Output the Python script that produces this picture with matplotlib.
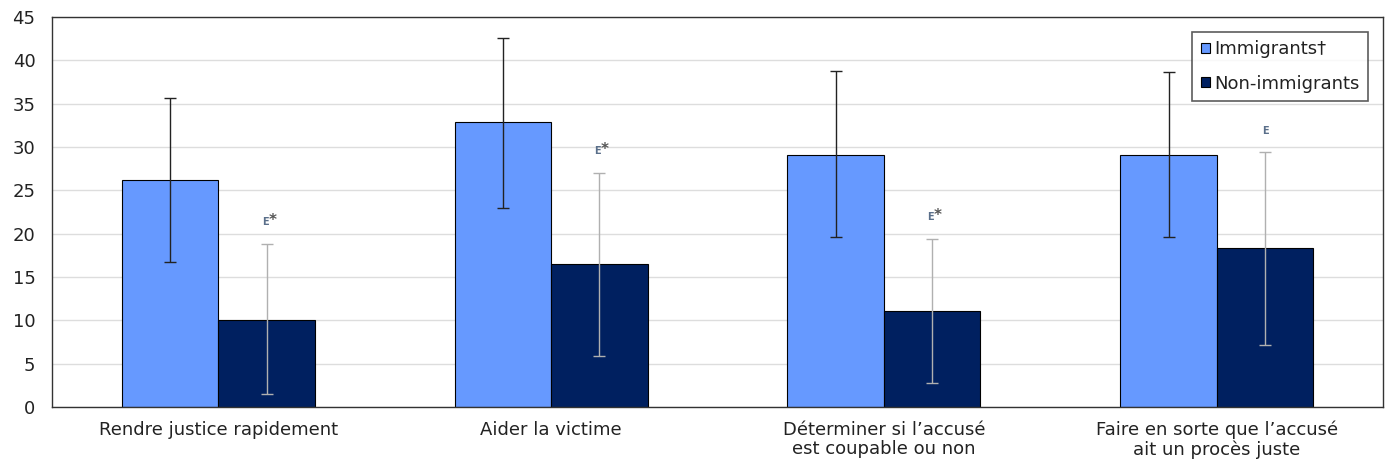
import numpy as np
import matplotlib.pyplot as plt

categories = ["Rendre justice rapidement", "Aider la victime",
              "Déterminer si l’accusé\nest coupable ou non",
              "Faire en sorte que l’accusé\nait un procès juste"]
immigrants = [26.2, 32.9, 29.1, 29.1]
imm_low = [16.7, 23.0, 19.6, 19.6]
imm_high = [35.7, 42.6, 38.8, 38.7]
non_immigrants = [10.0, 16.5, 11.1, 18.3]
non_low = [1.5, 5.9, 2.8, 7.2]
non_high = [18.8, 27.0, 19.4, 29.4]
flags = ["E*", "E*", "E*", "E"]

imm_color = "#6699ff"
non_color = "#002060"

fig = plt.figure(figsize=(13.88, 4.66), dpi=100)
ax = fig.add_axes([0.0375, 0.1266, 0.959, 0.837])

x = np.arange(len(categories))
w = 0.29
imm = np.array(immigrants)
non = np.array(non_immigrants)

ax.bar(x - w / 2, imm, w, color=imm_color, edgecolor="black", linewidth=0.8,
       label="Immigrants†", zorder=2)
ax.bar(x + w / 2, non, w, color=non_color, edgecolor="black", linewidth=0.8,
       label="Non-immigrants", zorder=2)

ax.errorbar(x - w / 2, imm, yerr=[imm - np.array(imm_low), np.array(imm_high) - imm],
            fmt="none", ecolor="#222222", elinewidth=1, capsize=4, zorder=3)
ax.errorbar(x + w / 2, non, yerr=[non - np.array(non_low), np.array(non_high) - non],
            fmt="none", ecolor="#b0b0b0", elinewidth=1, capsize=4, zorder=3)

for xi, hi, f in zip(x, non_high, flags):
    txt = ax.text(xi + w / 2, hi + 2.5, "E", ha="center", va="center",
                  fontsize=7, color="#5a6f8a", fontweight="bold")
    if "*" in f:
        txt.set_ha("right")
        txt.set_x(xi + w / 2 + 0.005)
        ax.text(xi + w / 2 + 0.005, hi + 2.7, "*", ha="left", va="center",
                fontsize=11, color="#555555", fontweight="bold")

ax.set_xlim(-0.5, 3.5)
ax.set_ylim(0, 45)
ax.set_yticks(range(0, 46, 5))
ax.set_xticks(x)
ax.set_xticklabels(categories, fontsize=13, color="#222222", linespacing=1.1)
ax.tick_params(axis="y", labelsize=13, labelcolor="#222222", length=0, pad=12)
ax.tick_params(axis="x", length=0, pad=10)
ax.yaxis.grid(True, color="#dddddd", linewidth=1, zorder=0)
ax.set_axisbelow(True)
for s in ax.spines.values():
    s.set_color("#333333")
    s.set_linewidth(1)

leg = ax.legend(loc="upper right", bbox_to_anchor=(0.991, 0.97), fontsize=13,
                frameon=True, fancybox=False, edgecolor="#333333",
                handlelength=0.5, handleheight=0.5, handletextpad=0.25,
                labelspacing=0.9, borderpad=0.45, borderaxespad=0.2)
leg.get_frame().set_linewidth(1.2)
for t in leg.get_texts():
    t.set_color("#222222")

fig.savefig("out.png", dpi=100)
